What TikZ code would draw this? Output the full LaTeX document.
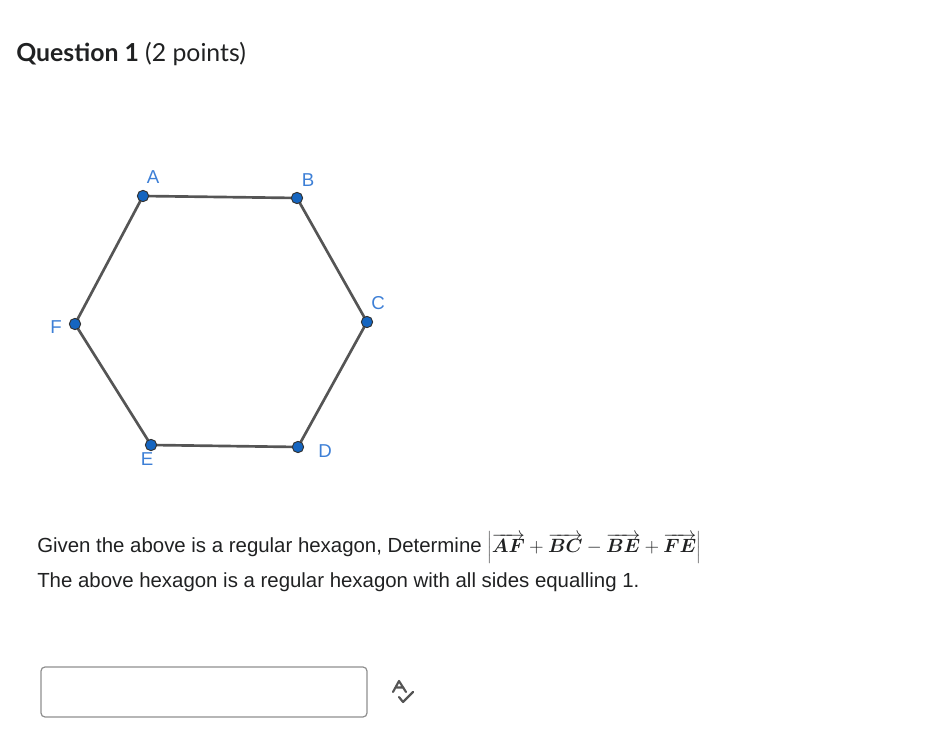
\documentclass[tikz,border=0pt]{standalone}
\usepackage{fontspec}
\usepackage{bm}
\setmainfont{Liberation Sans}
\newfontfamily\latofont{Lato}
\definecolor{ptblue}{HTML}{1565C0}
\definecolor{lblblue}{HTML}{3D7FD6}
\definecolor{edgegray}{HTML}{555555}
\definecolor{boxgray}{HTML}{8F8F8F}
\definecolor{titlegray}{HTML}{202122}
\tikzset{
    dot/.style={circle, fill=ptblue, draw=black!80, line width=0.7pt, inner sep=0pt, minimum size=8.5pt},
    vlabel/.style={text=lblblue, font=\fontsize{14}{16}\selectfont},
    qtext/.style={anchor=base west, inner sep=0pt, text=titlegray, font=\fontsize{15.3}{18}\selectfont},
}
\begin{document}
\begin{tikzpicture}[x=0.75pt,y=-0.75pt]
    \useasboundingbox (0,0) rectangle (926,731);

    \node[anchor=base west, text=titlegray, inner sep=0pt] (title) at (16,62)
        {\fontsize{18.6}{22}\selectfont\latofont\textbf{Question 1} (2 points)};

    %hexagon
    \coordinate (A) at (143,196);
    \coordinate (B) at (297,198);
    \coordinate (C) at (367,322);
    \coordinate (D) at (298,447);
    \coordinate (E) at (151,445);
    \coordinate (F) at (75,324);
    \draw[edgegray, line width=2pt] (A) -- (B) -- (C) -- (D) -- (E) -- (F) -- cycle;
    \foreach \p in {A,...,F} {
        \node[dot] (dot\p) at (\p) {};
    }
    \node[vlabel] (labA) at (153,177) {A};
    \node[vlabel] (labB) at (308,180) {B};
    \node[vlabel] (labC) at (378,303) {C};
    \node[vlabel] (labD) at (325,451) {D};
    \node[vlabel] (labE) at (147,459) {E};
    \node[vlabel] (labF) at (56,327)  {F};

    %question text
    \node[qtext] (line1) at (37,552)
        {Given the above is a regular hexagon, Determine
        $\left|\overrightarrow{\bm{AF}}+\overrightarrow{\bm{BC}}-\overrightarrow{\bm{BE}}+\overrightarrow{\bm{FE}}\right|$};
    \node[qtext] (line2) at (37,587)
        {The above hexagon is a regular hexagon with all sides equalling 1.};

    %answer box
    \draw[boxgray, line width=0.9pt, rounded corners=3pt] (41,667) rectangle (367,717);
    \draw[edgegray, line width=1.6pt, line cap=round, line join=round]
        (393,692) -- (399,681) -- (406,692) (395.5,687.5) -- (403.5,687.5);
    \draw[edgegray, line width=1.6pt, line cap=round, line join=round]
        (399,697) -- (403,702) -- (413,692);

\end{tikzpicture}
\end{document}
